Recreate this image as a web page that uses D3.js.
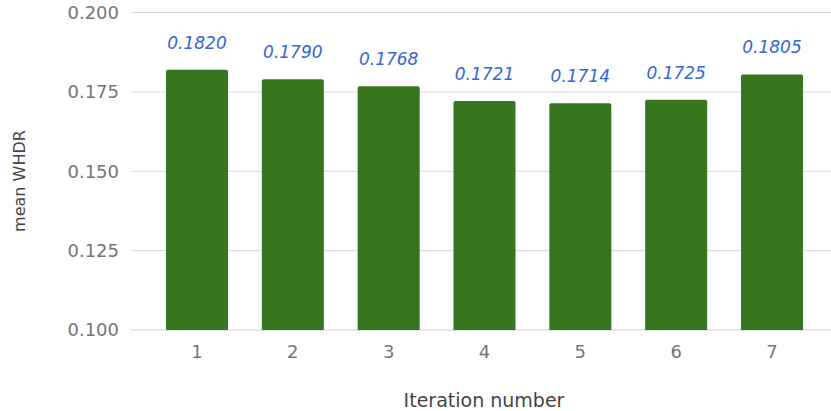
<!DOCTYPE html>
<html>
<head>
<meta charset="utf-8">
<script src="https://cdn.jsdelivr.net/npm/d3@7"></script>
<style>
  body { margin: 0; background: #fff; }
  svg { display: block; font-family: "DejaVu Sans", sans-serif; }
</style>
</head>
<body>
<svg id="chart" width="831" height="411"></svg>
<script>
// Mean WHDR per training iteration
const iterations = ["1", "2", "3", "4", "5", "6", "7"];
const meanWhdr = [0.1820, 0.1790, 0.1768, 0.1721, 0.1714, 0.1725, 0.1805];
const yTicks = [0.100, 0.125, 0.150, 0.175, 0.200];

const svg = d3.select("#chart");
const plotLeft = 131, plotRight = 831, plotTop = 12.5, plotBottom = 330;

const x = d3.scaleBand().domain(iterations).range([166, 803]).paddingInner(0.353).paddingOuter(0);
const y = d3.scaleLinear().domain([0.100, 0.200]).range([plotBottom, plotTop]);

// Horizontal gridlines
svg.append("g").selectAll("line").data(yTicks).join("line")
  .attr("x1", plotLeft).attr("x2", plotRight)
  .attr("y1", d => y(d)).attr("y2", d => y(d))
  .attr("stroke", d => d === 0.100 ? "#cfcfcf" : "#d9d9d9").attr("stroke-width", 1);

// Y axis labels
svg.append("g").selectAll("text").data(yTicks).join("text")
  .attr("x", 119).attr("y", d => y(d)).attr("dy", "0.36em")
  .attr("text-anchor", "end").attr("fill", "#757575").attr("font-size", 18)
  .text(d => d3.format(".3f")(d));

// Bars with slightly rounded top corners
const r = 2;
svg.append("g").selectAll("path").data(iterations).join("path")
  .attr("fill", "#38761d")
  .attr("d", (d, i) => {
    const x0 = x(d), w = x.bandwidth(), yt = y(meanWhdr[i]), yb = y(0.100);
    return `M${x0},${yb}V${yt + r}Q${x0},${yt} ${x0 + r},${yt}H${x0 + w - r}Q${x0 + w},${yt} ${x0 + w},${yt + r}V${yb}Z`;
  });

// Value labels
svg.append("g").selectAll("text").data(iterations).join("text")
  .attr("x", d => x(d) + x.bandwidth() / 2)
  .attr("y", (d, i) => y(meanWhdr[i]) - 21)
  .attr("text-anchor", "middle").attr("fill", "#3366d6")
  .attr("font-size", 17).attr("font-style", "italic")
  .text((d, i) => d3.format(".4f")(meanWhdr[i]));

// X axis labels
svg.append("g").selectAll("text").data(iterations).join("text")
  .attr("x", d => x(d) + x.bandwidth() / 2).attr("y", 358)
  .attr("text-anchor", "middle").attr("fill", "#757575").attr("font-size", 18)
  .text(d => d);

// Axis titles
svg.append("text").attr("x", 484).attr("y", 407)
  .attr("text-anchor", "middle").attr("fill", "#444").attr("font-size", 19)
  .text("Iteration number");
svg.append("text").attr("transform", "translate(25,181) rotate(-90)")
  .attr("text-anchor", "middle").attr("fill", "#444").attr("font-size", 16)
  .text("mean WHDR");
</script>
</body>
</html>
